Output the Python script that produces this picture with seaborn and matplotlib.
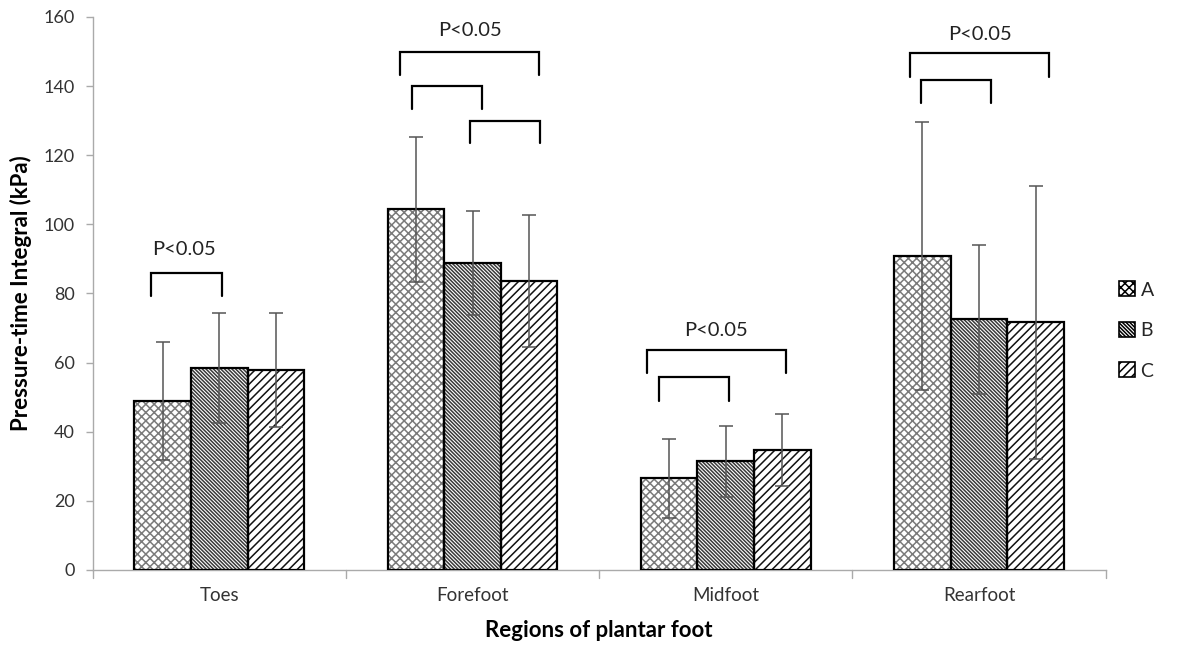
import numpy as np
import pandas as pd
import matplotlib
matplotlib.use("Agg")
import matplotlib.pyplot as plt
import seaborn as sns
from matplotlib.patches import Rectangle, Patch

# ---- data ----
regions = ["Toes", "Forefoot", "Midfoot", "Rearfoot"]
groups = ["A", "B", "C"]
mean_A = [48.9, 104.4, 26.5, 90.9]
mean_B = [58.4, 88.8, 31.5, 72.5]
mean_C = [57.9, 83.6, 34.7, 71.7]
sd_A = [17.0, 21.0, 11.5, 38.7]
sd_B = [16.0, 15.0, 10.3, 21.5]
sd_C = [16.5, 19.0, 10.3, 39.5]

# significance brackets: (region index, x-left offset, x-right offset, top y, leg drop)
brackets = [
    (0, -0.27, 0.01, 86.0, 6.7),
    (1, -0.285, 0.264, 149.8, 6.6),
    (1, -0.24, 0.038, 140.0, 6.6),
    (1, -0.01, 0.266, 130.0, 6.6),
    (2, -0.312, 0.238, 63.7, 6.6),
    (2, -0.262, 0.013, 55.7, 6.7),
    (3, -0.273, 0.277, 149.6, 7.0),
    (3, -0.23, 0.047, 141.8, 6.7),
]
# p-value labels: (region index, x offset, y)
plabels = [(0, -0.14, 92.6), (1, -0.01, 156.0), (2, -0.037, 69.4), (3, 0.002, 155.0)]

df = pd.DataFrame({
    "Region": regions * 3,
    "Group": ["A"] * 4 + ["B"] * 4 + ["C"] * 4,
    "Value": mean_A + mean_B + mean_C,
})
sds = {"A": sd_A, "B": sd_B, "C": sd_C}

sns.set_theme(style="white")
plt.rcParams["font.family"] = ["Lato", "DejaVu Sans"]
plt.rcParams["hatch.linewidth"] = 1.1

fig = plt.figure(figsize=(11.82, 6.48), dpi=100)
ax = fig.add_axes([0.0784, 0.1204, 0.857, 0.8534])

sns.barplot(data=df, x="Region", y="Value", hue="Group", order=regions,
            hue_order=groups, errorbar=None, width=0.67, ax=ax,
            palette=["white"] * 3, legend=False, saturation=1)

hatches = {"A": "xxxx", "B": "\\\\\\\\\\\\\\\\\\", "C": "////"}
hcolors = {"A": "#7a7a7a", "B": "#3a3a3a", "C": "#111111"}

bars = ax.patches[:12]
for gi, g in enumerate(groups):
    for ri in range(4):
        p = bars[gi * 4 + ri]
        p.set_facecolor("white")
        p.set_hatch(hatches[g])
        p.set_edgecolor(hcolors[g])
        p.set_linewidth(0)
        x0, y0 = p.get_x(), p.get_y()
        w, h = p.get_width(), p.get_height()
        ax.add_patch(Rectangle((x0, y0), w, h, fill=False, edgecolor="black",
                               linewidth=1.6, zorder=3))
        cx = x0 + w / 2
        ax.errorbar(cx, h, yerr=sds[g][ri], fmt="none", ecolor="#555555",
                    elinewidth=1.1, capsize=5, capthick=1.1, zorder=4)

for ri, xl, xr, ytop, drop in brackets:
    ax.plot([ri + xl, ri + xl, ri + xr, ri + xr],
            [ytop - drop, ytop, ytop, ytop - drop],
            color="black", lw=1.6, zorder=5, solid_joinstyle="miter")
for ri, xo, yy in plabels:
    ax.text(ri + xo, yy, "P<0.05", ha="center", va="center", fontsize=14.5,
            color="#222222")

ax.set_ylim(0, 160)
ax.set_xlim(-0.5, 3.5)
ax.set_yticks(np.arange(0, 161, 20))
ax.tick_params(axis="y", labelsize=13, colors="#333333", length=5,
               width=1, color="#aaaaaa", left=True, direction="out", pad=8)
ax.set_xticks(range(4))
ax.set_xticklabels(regions)
ax.tick_params(axis="x", labelsize=13.5, colors="#333333", length=0, pad=12)
for b in [0.5, 1.5, 2.5, 3.5, -0.5]:
    ax.plot([b, b], [0, -2.2], color="#aaaaaa", lw=1, clip_on=False)
for s in ["top", "right"]:
    ax.spines[s].set_visible(False)
for s in ["left", "bottom"]:
    ax.spines[s].set_color("#aaaaaa")
    ax.spines[s].set_linewidth(1)
ax.set_ylabel("Pressure-time Integral (kPa)", fontsize=16, fontweight="bold",
              color="black", labelpad=8)
ax.set_xlabel("Regions of plantar foot", fontsize=16, fontweight="bold",
              color="black", labelpad=12)

handles = [Patch(facecolor="white", edgecolor="black", hatch=hatches[g], linewidth=1.2)
           for g in groups]
fig.legend(handles, groups, loc="center left", bbox_to_anchor=(0.932, 0.49),
           frameon=False, fontsize=14, handlelength=0.8, handleheight=0.8,
           labelspacing=1.2, handletextpad=0.3)

fig.savefig("out.png", dpi=100, facecolor="white")
